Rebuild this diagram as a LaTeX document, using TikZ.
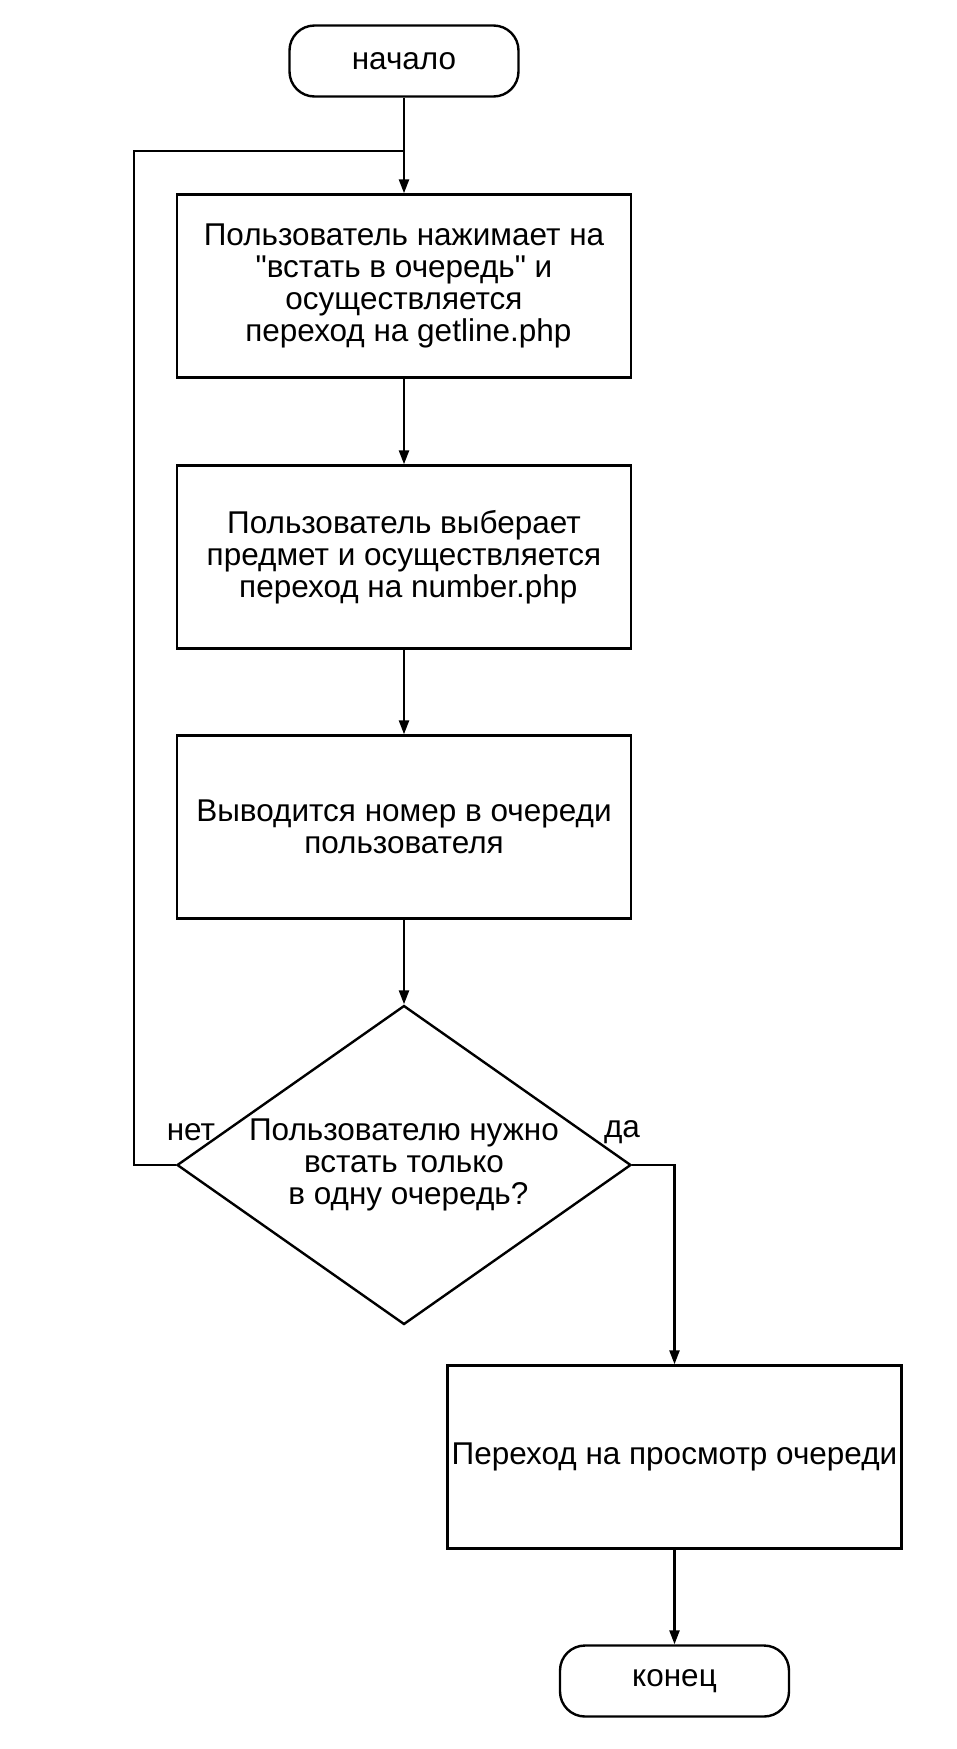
\documentclass[tikz,border=0pt]{standalone}
\usepackage{fontspec}
\setmainfont{Liberation Sans}
\usetikzlibrary{shapes.geometric,arrows.meta}

\begin{document}
\begin{tikzpicture}[x=1pt, y=-1pt,
    every node/.style={font=\fontsize{31.5}{31.8}\selectfont},
    term/.style={draw, line width=2.4pt, rounded corners=25pt, minimum width=229pt, minimum height=71pt, inner sep=0pt},
    proc/.style={draw, line width=2.4pt, minimum width=454pt, minimum height=183pt, inner sep=0pt, align=center},
    decide/.style={diamond, draw, line width=2.4pt, minimum width=454pt, minimum height=319pt, aspect=1.42, inner sep=0pt, align=center},
    link/.style={line width=2.4pt, -{Triangle[length=14pt, width=10pt]}},
    plain/.style={line width=2.4pt}
]
    \useasboundingbox (0,0) rectangle (957,1749);

    % Start and main column
    \node[term] (start) at (404, 61) {начало};
    \node[proc] (press) at (404, 286) {Пользователь нажимает на\\\textquotedbl встать в очередь\textquotedbl{} и~\\осуществляется\\~переход на getline.php};
    \node[proc] (subject) at (404, 557) {Пользователь выберает~\\предмет и осуществляется\\~переход на number.php};
    \node[proc] (number) at (404, 827) {Выводится номер в очереди\\пользователя};
    \node[decide] (ask) at (404, 1165) {Пользователю нужно~\\встать только\\~в одну очередь?};

    % Right branch
    \node[proc] (view) at (674.5, 1457) {Переход на просмотр очереди};
    \node[term] (stop) at (674.5, 1681) {конец};

    % Branch labels
    \node (no) at (191, 1132) {нет};
    \node (yes) at (622, 1132) {да};

    \coordinate (merge) at (404, 151);
    \coordinate (back) at (134, 1165);

    \draw[link] (start) -- (press);
    \draw[link] (press) -- (subject);
    \draw[link] (subject) -- (number);
    \draw[link] (number) -- (ask);

    % Loop back when more queues are needed
    \draw[plain] (ask.west) -- (back) |- (merge);

    \draw[link] (ask.east) -| (view.north);
    \draw[link] (view) -- (stop);
\end{tikzpicture}
\end{document}
